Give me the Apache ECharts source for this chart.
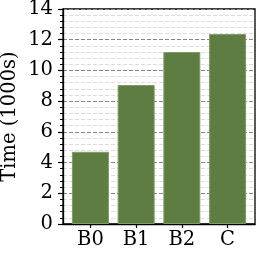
<!DOCTYPE html>
<html><head><meta charset="utf-8">
<script src="https://cdn.jsdelivr.net/npm/echarts@6/dist/echarts.min.js"></script>
<style>html,body{margin:0;padding:0;background:#fff}#c{width:258px;height:254px}</style>
</head><body><div id="c"></div>
<script>
const categories = ['B0', 'B1', 'B2', 'C'];
const times = [4.7, 9.05, 11.2, 12.37];
const yTicks = [0, 2, 4, 6, 8, 10, 12, 14];

const font = 'DejaVu Serif';
const fs = 19.5;
const chart = echarts.init(document.getElementById('c'), null, {renderer: 'canvas'});
chart.setOption({
  animation: false,
  grid: {left: 63, right: 3, top: 9, bottom: 30, outerBoundsMode: 'none', containLabel: false, show: true, borderColor: '#000', borderWidth: 1.3, backgroundColor: 'transparent'},
  xAxis: {
    type: 'value', min: -0.6, max: 3.6,
    axisLine: {show: true, onZero: false, lineStyle: {color: '#000', width: 1.3}},
    axisTick: {show: true, inside: false, customValues: categories.map((_, i) => i), length: 4, lineStyle: {color: '#000', width: 1.2}},
    axisLabel: {customValues: categories.map((_, i) => i), formatter: v => categories[Math.round(v)], fontFamily: font, fontSize: fs, color: '#000', margin: 6},
    splitLine: {show: false}
  },
  yAxis: {
    type: 'value', min: yTicks[0], max: yTicks[yTicks.length - 1], interval: 2,
    name: 'Time (1000s)', nameLocation: 'middle', nameGap: 43, nameRotate: 90, nameMoveOverlap: false,
    nameTextStyle: {fontFamily: font, fontSize: fs, color: '#000'},
    axisLine: {show: true, onZero: false, lineStyle: {color: '#000', width: 1.3}},
    axisTick: {show: true, inside: false, length: 5, lineStyle: {color: '#000', width: 1.2}},
    minorTick: {show: true, splitNumber: 5, length: 3, lineStyle: {color: '#000', width: 1}},
    axisLabel: {fontFamily: font, fontSize: fs, color: '#000', margin: 10},
    splitLine: {show: true, lineStyle: {color: '#888', type: [4, 2], width: 1}},
    minorSplitLine: {show: true, lineStyle: {color: '#ddd', type: [4, 2], width: 1}}
  },
  series: [{
    type: 'bar',
    data: times.map((v, i) => [i, v]),
    barWidth: 37,
    itemStyle: {color: '#5e7d42', borderColor: '#7f9c66', borderWidth: 1},
    z: 3
  }]
});
</script></body></html>
